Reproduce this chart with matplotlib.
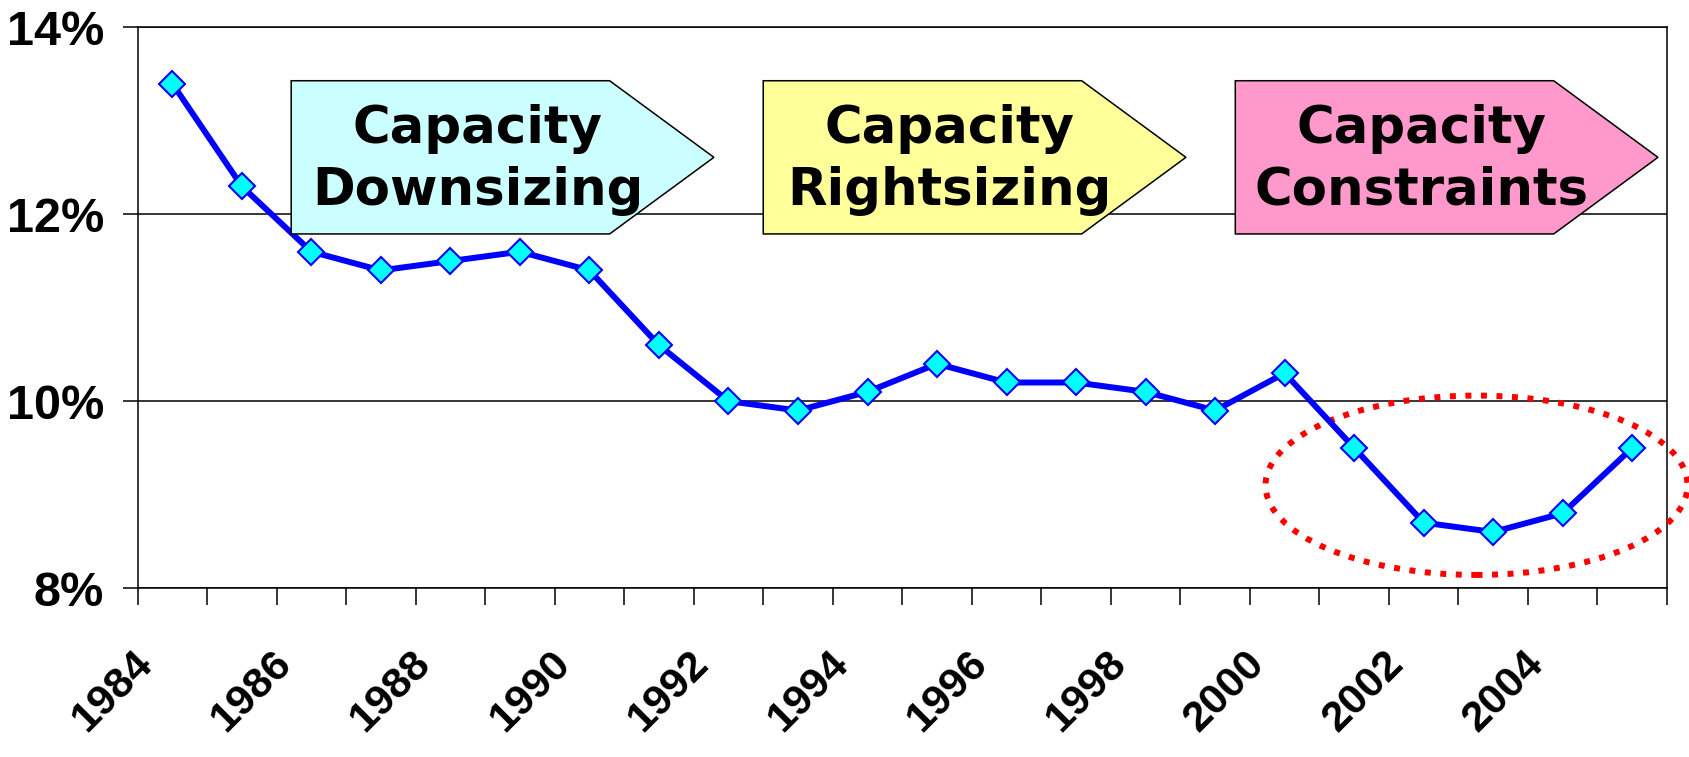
import numpy as np
import matplotlib

matplotlib.use("Agg")
import matplotlib.pyplot as plt
import matplotlib.transforms as mtransforms
from matplotlib.patches import Polygon, Ellipse

# capacity utilisation margin by year
years = list(range(1984, 2006))
margin = [13.4, 12.3, 11.6, 11.4, 11.5, 11.6, 11.4, 10.6, 10.0, 9.9, 10.1,
          10.4, 10.2, 10.2, 10.1, 9.9, 10.3, 9.5, 8.7, 8.6, 8.8, 9.5]
y_ticks = [8, 10, 12, 14]

phase_labels = ["Capacity\nDownsizing", "Capacity\nRightsizing", "Capacity\nConstraints"]
phase_colors = ["#CCFFFF", "#FFFF99", "#FF99CC"]

plt.rcParams["font.family"] = ["Liberation Sans", "DejaVu Sans"]
plt.rcParams["font.weight"] = "bold"

fig = plt.figure(figsize=(16.9, 7.57), dpi=100)
ax = fig.add_axes([0.0814, 0.2232, 0.9050, 0.7405])

x = np.arange(len(years))
ax.plot(x, margin, color="#0000FF", linewidth=4.3, marker="D", markersize=13,
        markerfacecolor="#00FFFF", markeredgecolor="#0000FF", markeredgewidth=1.5,
        zorder=4)

ax.set_xlim(-0.5, len(years) - 0.5)
ax.set_ylim(8, 14)

# y axis: gridlines at each label, Excel style
ax.set_yticks(y_ticks)
ax.set_yticklabels([f"{v}%" for v in y_ticks], fontsize=35, fontweight="bold")
ax.yaxis.grid(True, color="black", linewidth=1.1)
ax.tick_params(axis="y", direction="out", length=11, width=1.1, pad=13)

# x axis: ticks between categories, labels on every other year
ax.set_xticks(np.arange(-0.5, len(years)), minor=True)
ax.set_xticks(x[::2])
ax.set_xticklabels([str(y) for y in years[::2]], fontsize=31, fontweight="bold")
ax.tick_params(axis="x", which="minor", direction="out", length=12, width=1.1)
ax.tick_params(axis="x", which="major", length=0, pad=40)
shift = mtransforms.ScaledTranslation(-40 / 100, 0, fig.dpi_scale_trans)
for lbl in ax.get_xticklabels():
    lbl.set_rotation(45)
    lbl.set_ha("right")
    lbl.set_rotation_mode("anchor")
    lbl.set_transform(lbl.get_transform() + shift)

for s in ax.spines.values():
    s.set_linewidth(1.1)
    s.set_color("black")
ax.set_axisbelow(True)

# phase arrows across the top
box_left = [1.71, 8.50, 15.29]
rect_w, tip_w = 4.58, 1.50
top, bottom = 13.43, 11.79
mid = (top + bottom) / 2
for left, label, color in zip(box_left, phase_labels, phase_colors):
    verts = [(left, bottom), (left, top), (left + rect_w, top),
             (left + rect_w + tip_w, mid), (left + rect_w, bottom)]
    ax.add_patch(Polygon(verts, closed=True, facecolor=color, edgecolor="black",
                         linewidth=1.1, zorder=5, clip_on=False))
    ax.text(left + 2.68, 12.58, label, ha="center", va="center",
            family="DejaVu Sans", fontsize=37, fontweight="bold",
            linespacing=1.3, zorder=6)

# highlight the recent dip
ax.add_patch(Ellipse((18.76, 9.10), 6.07, 1.92, fill=False, edgecolor="#FF0000",
                     linewidth=4.3, linestyle=(0, (1.0, 1.6)), zorder=3,
                     clip_on=False))

fig.savefig("out.png", dpi=100)
